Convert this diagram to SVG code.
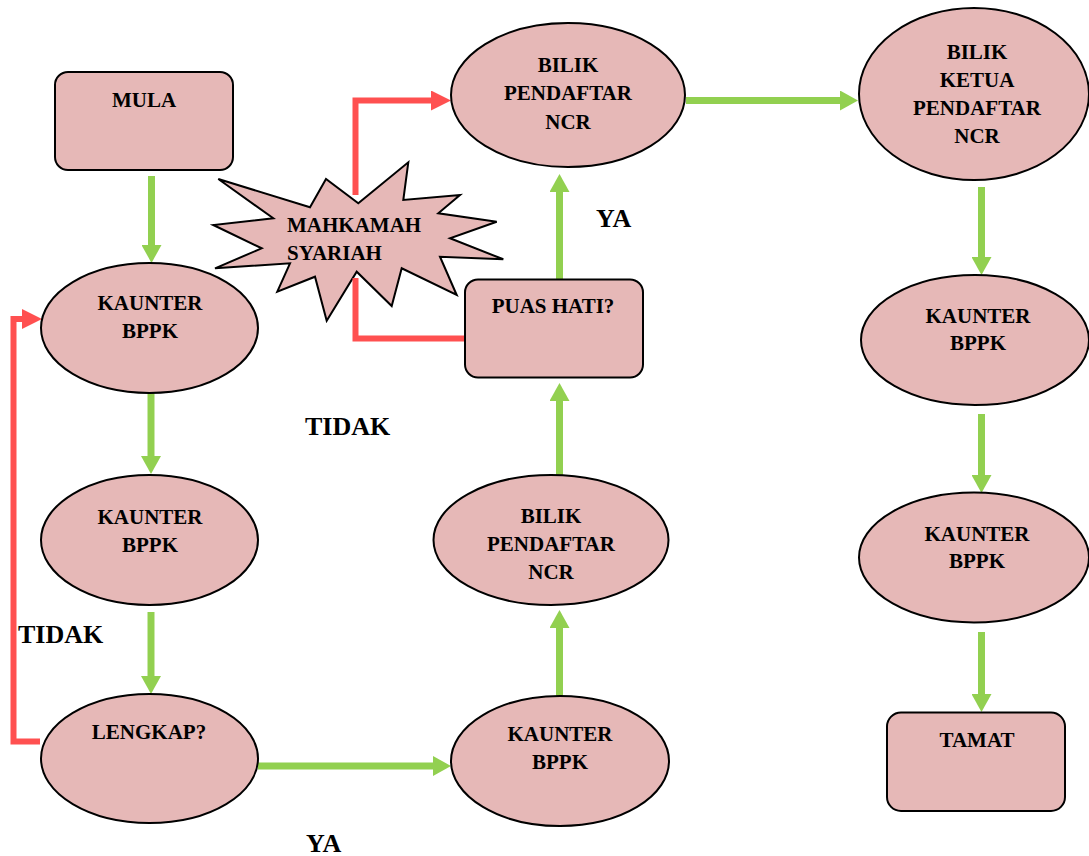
<svg xmlns="http://www.w3.org/2000/svg" width="1089" height="856" viewBox="0 0 1089 856">
<style>
.n{fill:#e6b8b7;stroke:#000;stroke-width:2}
.t{font-weight:bold;font-size:21px;fill:#000;text-anchor:middle}
.l{font-weight:bold;font-size:26px;fill:#000}
.g{fill:none;stroke:#92d050;stroke-width:7}
.r{fill:none;stroke:#ff5050;stroke-width:6}
</style>
<defs>
<marker id="ag" markerUnits="userSpaceOnUse" viewBox="0 0 18 20" refX="0" refY="10" markerWidth="18" markerHeight="20" orient="auto"><path d="M0,0 L18,10 L0,20 z" fill="#92d050"/></marker>
<marker id="ar" markerUnits="userSpaceOnUse" viewBox="0 0 20 20" refX="0" refY="10" markerWidth="20" markerHeight="20" orient="auto"><path d="M0,0 L20,10 L0,20 z" fill="#ff5050"/></marker>
</defs>
<rect width="1089" height="856" fill="#fff"/>
<g id="connectors">
<path class="g" d="M151.5,176 V245" marker-end="url(#ag)"/>
<path class="g" d="M151,393 V456" marker-end="url(#ag)"/>
<path class="g" d="M151,612 V676" marker-end="url(#ag)"/>
<path class="g" d="M258,766 H433" marker-end="url(#ag)"/>
<path class="g" d="M559.5,696 V628" marker-end="url(#ag)"/>
<path class="g" d="M559.5,475 V401" marker-end="url(#ag)"/>
<path class="g" d="M559.5,279 V192" marker-end="url(#ag)"/>
<path class="g" d="M686,100.5 H840" marker-end="url(#ag)"/>
<path class="g" d="M981.5,187 V257" marker-end="url(#ag)"/>
<path class="g" d="M981.5,414 V475" marker-end="url(#ag)"/>
<path class="g" d="M981.5,632 V694" marker-end="url(#ag)"/>
<path class="r" d="M40,741.5 H13.5 V319 H22" marker-end="url(#ar)"/>
<path class="r" d="M355.5,195 V100.5 H431" marker-end="url(#ar)"/>
</g>
<g font-family="Liberation Serif, Times New Roman, serif">
<g id="mula"><rect class="n" x="55" y="72" width="178" height="98" rx="13"/><text class="t" x="144" y="107">MULA</text></g>
<g id="mahkamah"><polygon class="n" points="218.3,179 310,207.3 326,179 358.3,203.3 408.3,162.3 403.3,200 460,195 438.3,213.3 496.7,221.7 450,238.3 503.3,259.3 440,256.7 456.7,295 401.7,268.3 391.7,306 356.7,271.7 326.7,320.7 315,276.7 277.3,291.7 290,263.3 215,268.3 261.7,248.3 213.3,225 273.3,218.3"/>
<text class="t" x="287" y="232" text-anchor="start" style="text-anchor:start">MAHKAMAH</text><text class="t" x="287" y="260" style="text-anchor:start">SYARIAH</text></g>
<g id="connector-puas-mahkamah"><path class="r" d="M465,338.5 H355.5 V278"/></g>
<g id="kaunter1"><ellipse class="n" cx="149.5" cy="328" rx="108.5" ry="65"/><text class="t" x="150" y="310">KAUNTER</text><text class="t" x="150" y="338">BPPK</text></g>
<g id="kaunter2"><ellipse class="n" cx="149.5" cy="540" rx="108.5" ry="65"/><text class="t" x="150" y="524">KAUNTER</text><text class="t" x="150" y="552">BPPK</text></g>
<g id="lengkap"><ellipse class="n" cx="149.5" cy="758.5" rx="108.5" ry="64.5"/><text class="t" x="149" y="739">LENGKAP?</text></g>
<g id="kaunter3"><ellipse class="n" cx="560" cy="761" rx="109" ry="65"/><text class="t" x="560" y="741">KAUNTER</text><text class="t" x="560" y="769">BPPK</text></g>
<g id="bilik2"><ellipse class="n" cx="551" cy="540" rx="117.5" ry="65"/><text class="t" x="551" y="523">BILIK</text><text class="t" x="551" y="551">PENDAFTAR</text><text class="t" x="551" y="579">NCR</text></g>
<g id="puas"><rect class="n" x="465" y="279.5" width="178" height="98" rx="13"/><text class="t" x="553" y="313">PUAS HATI?</text></g>
<g id="bilik1"><ellipse class="n" cx="568" cy="95" rx="117" ry="72"/><text class="t" x="568" y="72">BILIK</text><text class="t" x="568" y="100">PENDAFTAR</text><text class="t" x="568" y="129">NCR</text></g>
<g id="ketua"><ellipse class="n" cx="974" cy="94" rx="115" ry="86"/><text class="t" x="977" y="59">BILIK</text><text class="t" x="977" y="87">KETUA</text><text class="t" x="977" y="115">PENDAFTAR</text><text class="t" x="977" y="143">NCR</text></g>
<g id="kaunter4"><ellipse class="n" cx="975" cy="340" rx="114" ry="65"/><text class="t" x="978" y="323">KAUNTER</text><text class="t" x="978" y="350">BPPK</text></g>
<g id="kaunter5"><ellipse class="n" cx="974" cy="557.5" rx="115" ry="65"/><text class="t" x="977" y="541">KAUNTER</text><text class="t" x="977" y="568">BPPK</text></g>
<g id="tamat"><rect class="n" x="887" y="712.5" width="178" height="98.5" rx="14"/><text class="t" x="977" y="747">TAMAT</text></g>
<g id="labels">
<text class="l" x="596" y="227">YA</text>
<text class="l" x="305" y="435">TIDAK</text>
<text class="l" x="18" y="643">TIDAK</text>
<text class="l" x="306" y="852">YA</text>
</g>
</g>
</svg>
